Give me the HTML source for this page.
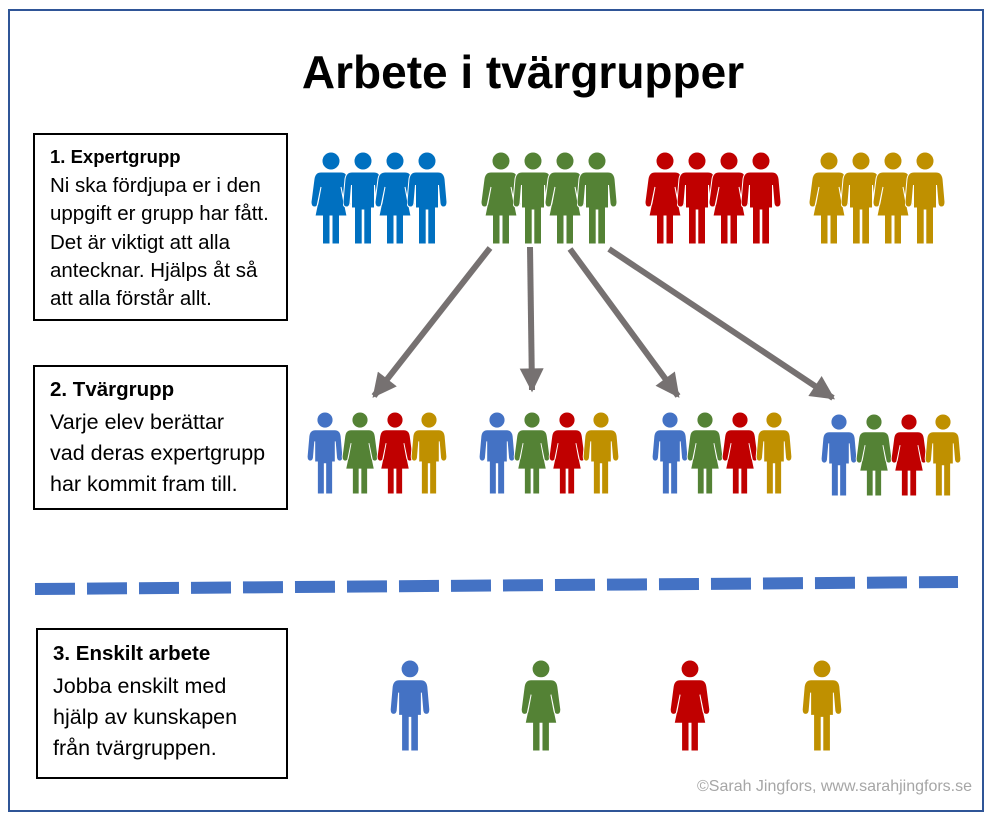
<!DOCTYPE html>
<html><head><meta charset="utf-8"><style>
body{margin:0;background:#fff;width:988px;height:816px;overflow:hidden;font-family:"Liberation Sans",sans-serif}
.t{position:absolute;white-space:nowrap;color:#000}
</style></head><body>
<svg width="988" height="816" style="position:absolute;left:0;top:0">
<defs>
<symbol id="m" viewBox="0 0 40 92">
<circle cx="20" cy="9" r="9"/>
<path d="M9,20 H31 Q37,20 38,27 L40,50 Q40,55 36.5,55 Q33.5,55 33,51 L31.5,33 V56 H28.5 V92 H20.8 V58 H19.2 V92 H11.5 V56 H8.5 V33 L7,51 Q6.5,55 3.5,55 Q0,55 0,50 L2,27 Q3,20 9,20Z"/>
</symbol>
<symbol id="w" viewBox="0 0 40 92">
<circle cx="20" cy="9" r="9"/>
<path d="M10,20 H30 Q36,20 37,27 L40,50 Q40,55 36.5,55 Q33.5,55 33,51 L30,35 L36,64 H28.5 V92 H21 V64 H19 V92 H11.5 V64 H4 L10,35 L7,51 Q6.5,55 3.5,55 Q0,55 0,50 L3,27 Q4,20 10,20Z"/>
</symbol>
<marker id="a" viewBox="0 0 10 10" refX="9" refY="5" markerWidth="4.5" markerHeight="4" orient="auto" markerUnits="strokeWidth"><path d="M0,0 L10,5 L0,10Z" fill="#767171"/></marker>
</defs>
<rect x="9" y="10" width="974" height="801" fill="none" stroke="#2F5597" stroke-width="2"/>
<g stroke="#fff" stroke-width="1">
<g fill="#0070C0"><use href="#w" x="311" y="152" width="40" height="92"/><use href="#m" x="343" y="152" width="40" height="92"/><use href="#w" x="375" y="152" width="40" height="92"/><use href="#m" x="407" y="152" width="40" height="92"/></g>
<g fill="#548235"><use href="#w" x="481" y="152" width="40" height="92"/><use href="#m" x="513" y="152" width="40" height="92"/><use href="#w" x="545" y="152" width="40" height="92"/><use href="#m" x="577" y="152" width="40" height="92"/></g>
<g fill="#C00000"><use href="#w" x="645" y="152" width="40" height="92"/><use href="#m" x="677" y="152" width="40" height="92"/><use href="#w" x="709" y="152" width="40" height="92"/><use href="#m" x="741" y="152" width="40" height="92"/></g>
<g fill="#BF9000"><use href="#w" x="809" y="152" width="40" height="92"/><use href="#m" x="841" y="152" width="40" height="92"/><use href="#w" x="873" y="152" width="40" height="92"/><use href="#m" x="905" y="152" width="40" height="92"/></g>
<g id="g2">
<use href="#m" x="306" y="412" width="38" height="82" fill="#4472C4"/>
<use href="#w" x="341" y="412" width="38" height="82" fill="#548235"/>
<use href="#w" x="376" y="412" width="38" height="82" fill="#C00000"/>
<use href="#m" x="410" y="412" width="38" height="82" fill="#BF9000"/>
</g>
<use href="#g2" x="172"/><use href="#g2" x="345"/><use href="#g2" x="514" y="2"/>
<use href="#m" x="388" y="660" width="44" height="91" fill="#4472C4"/>
<use href="#w" x="519" y="660" width="44" height="91" fill="#548235"/>
<use href="#w" x="668" y="660" width="44" height="91" fill="#C00000"/>
<use href="#m" x="800" y="660" width="44" height="91" fill="#BF9000"/>
</g>
<g stroke="#767171" stroke-width="6" marker-end="url(#a)" fill="none">
<line x1="490" y1="248" x2="374" y2="396"/>
<line x1="530" y1="247" x2="532" y2="390"/>
<line x1="570" y1="249" x2="678" y2="396"/>
<line x1="609" y1="249" x2="833" y2="398"/>
</g>
<line x1="35" y1="589" x2="958" y2="582" stroke="#4472C4" stroke-width="12" stroke-dasharray="40,12"/>
<rect x="34" y="134" width="253" height="186" fill="none" stroke="#000" stroke-width="2"/>
<rect x="34" y="366" width="253" height="143" fill="none" stroke="#000" stroke-width="2"/>
<rect x="37" y="629" width="250" height="149" fill="none" stroke="#000" stroke-width="2"/>
</svg>
<div class="t" style="left:0;width:1046px;text-align:center;top:45px;font-size:46px;font-weight:bold">Arbete i tvärgrupper</div>
<div class="t" style="left:50px;top:146px;font-size:18.5px;font-weight:bold">1. Expertgrupp</div>
<div class="t" style="left:50px;top:172px;font-size:20.5px;line-height:28.3px">Ni ska fördjupa er i den<br>uppgift er grupp har fått.<br>Det är viktigt att alla<br>antecknar. Hjälps åt så<br>att alla förstår allt.</div>
<div class="t" style="left:50px;top:378px;font-size:20.5px;font-weight:bold">2. Tvärgrupp</div>
<div class="t" style="left:50px;top:407px;font-size:21.5px;line-height:31px">Varje elev berättar<br>vad deras expertgrupp<br>har kommit fram till.</div>
<div class="t" style="left:53px;top:642px;font-size:20.5px;font-weight:bold">3. Enskilt arbete</div>
<div class="t" style="left:53px;top:671px;font-size:21.5px;line-height:31px">Jobba enskilt med<br>hjälp av kunskapen<br>från tvärgruppen.</div>
<div class="t" style="left:697px;top:778px;font-size:16px;color:#A6A6A6">©Sarah Jingfors, www.sarahjingfors.se</div>
</body></html>
